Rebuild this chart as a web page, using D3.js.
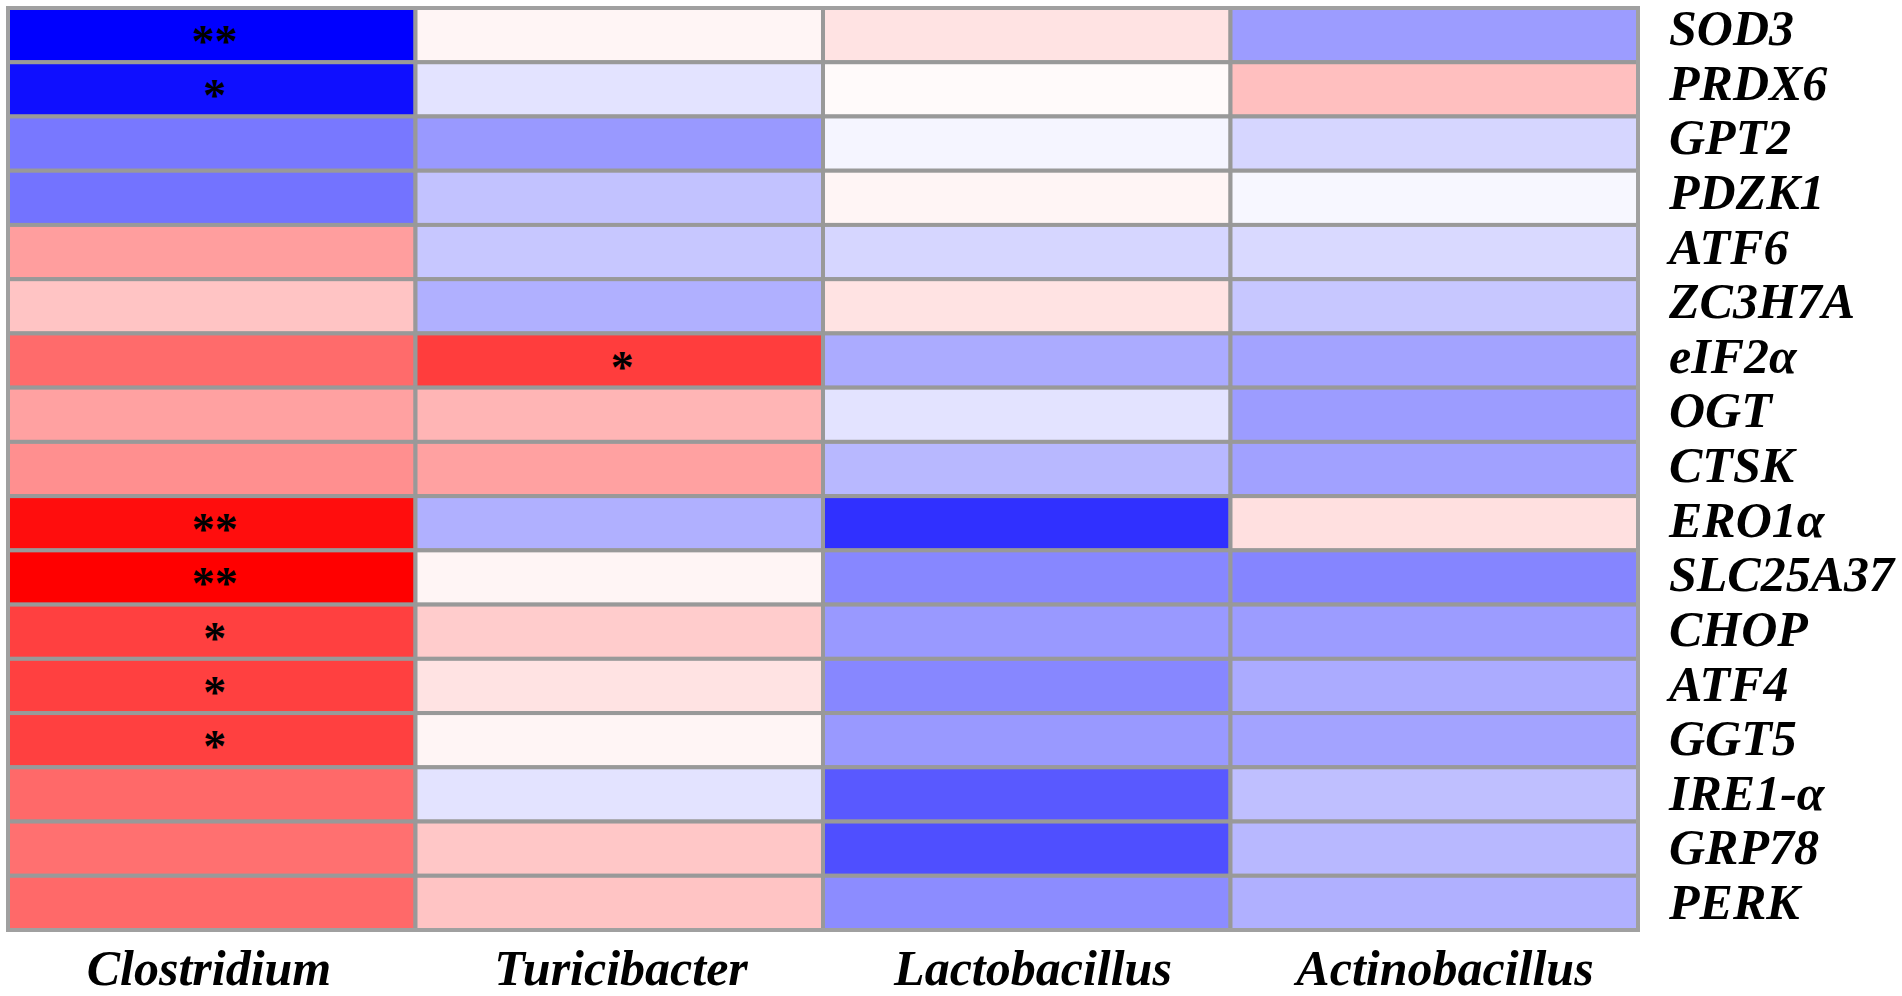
<!DOCTYPE html>
<html>
<head>
<meta charset="utf-8">
<script src="https://cdn.jsdelivr.net/npm/d3@7"></script>
<style>
  html, body { margin: 0; padding: 0; background: #ffffff; }
  svg { display: block; }
</style>
</head>
<body>
<div id="heatmap"></div>
<script>
//-------------------------------------------------------
// data
//-------------------------------------------------------
const genes = ["SOD3", "PRDX6", "GPT2", "PDZK1", "ATF6", "ZC3H7A", "eIF2α", "OGT", "CTSK",
    "ERO1α", "SLC25A37", "CHOP", "ATF4", "GGT5", "IRE1-α", "GRP78", "PERK"];

const genera = ["Clostridium", "Turicibacter", "Lactobacillus", "Actinobacillus"];

// correlation per gene (same order as genes)
const clostridium   = [-1.00, -0.94, -0.53, -0.55, 0.38, 0.23, 0.58, 0.37, 0.44, 0.95, 1.00, 0.75, 0.75, 0.75, 0.59, 0.56, 0.59];
const turicibacter  = [0.04, -0.11, -0.40, -0.24, -0.22, -0.31, 0.76, 0.29, 0.37, -0.31, 0.04, 0.20, 0.11, 0.04, -0.11, 0.22, 0.23];
const lactobacillus = [0.11, 0.02, -0.04, 0.04, -0.16, 0.11, -0.33, -0.11, -0.28, -0.81, -0.47, -0.40, -0.47, -0.40, -0.65, -0.69, -0.45];
const actinobacillus = [-0.39, 0.25, -0.16, -0.03, -0.15, -0.22, -0.36, -0.39, -0.37, 0.12, -0.48, -0.39, -0.33, -0.36, -0.25, -0.28, -0.31];

// significance marks
const clostridiumSig   = ["**", "*", "", "", "", "", "", "", "", "**", "**", "*", "*", "*", "", "", ""];
const turicibacterSig  = ["", "", "", "", "", "", "*", "", "", "", "", "", "", "", "", "", ""];
const lactobacillusSig = genes.map(() => "");
const actinobacillusSig = genes.map(() => "");

const seriesValues = [clostridium, turicibacter, lactobacillus, actinobacillus];
const seriesSig = [clostridiumSig, turicibacterSig, lactobacillusSig, actinobacillusSig];

//-------------------------------------------------------
// properties
//-------------------------------------------------------
let properties = {
    width: 1902,
    height: 996,
    grid: { left: 8, right: 1638, top: 8, bottom: 930 },
    rowLabel: { x: 1669, first: 45, last: 919, size: 50 },
    colLabel: { y: 985, first: 209, last: 1445, size: 50 },
    star: { size: 46, dy: 22, dx: 3 },
    color: {
        low: "#0000ff",
        mid: "#ffffff",
        high: "#ff0000",
        border: "#999999",
        text: "#000000"
    },
    font: "'Liberation Serif', 'Times New Roman', serif"
};

// build cells table
const cells = [];
genera.forEach((g, j) => {
    genes.forEach((gene, i) => {
        cells.push({ genus: g, gene: gene, value: seriesValues[j][i], sig: seriesSig[j][i] });
    });
});

//-------------------------------------------------------
// scales
//-------------------------------------------------------
const x = d3.scaleBand()
    .domain(genera)
    .range([properties.grid.left, properties.grid.right]);

const y = d3.scaleBand()
    .domain(genes)
    .range([properties.grid.top, properties.grid.bottom]);

// labels sit on their own slightly different spacing
const yLabel = d3.scalePoint()
    .domain(genes)
    .range([properties.rowLabel.first, properties.rowLabel.last]);

const xLabel = d3.scalePoint()
    .domain(genera)
    .range([properties.colLabel.first, properties.colLabel.last]);

const color = d3.scaleLinear()
    .domain([-1, 0, 1])
    .range([properties.color.low, properties.color.mid, properties.color.high]);

//-------------------------------------------------------
// svg
//-------------------------------------------------------
const svg = d3.select("#heatmap")
    .append("svg")
    .attr("width", properties.width)
    .attr("height", properties.height);

// cells
svg.append("g")
    .attr("id", "cells")
    .selectAll("rect")
    .data(cells)
    .enter()
    .append("rect")
    .attr("x", d => x(d.genus))
    .attr("y", d => y(d.gene))
    .attr("width", x.bandwidth())
    .attr("height", y.bandwidth())
    .attr("fill", d => color(d.value))
    .attr("stroke", properties.color.border)
    .attr("stroke-width", 4);

// outer frame
svg.append("rect")
    .attr("x", properties.grid.left)
    .attr("y", properties.grid.top)
    .attr("width", properties.grid.right - properties.grid.left)
    .attr("height", properties.grid.bottom - properties.grid.top)
    .attr("fill", "none")
    .attr("stroke", "#a0a0a0")
    .attr("stroke-width", 4);

// significance stars
svg.append("g")
    .attr("id", "stars")
    .selectAll("text")
    .data(cells.filter(d => d.sig !== ""))
    .enter()
    .append("text")
    .attr("x", d => x(d.genus) + x.bandwidth() / 2 + properties.star.dx)
    .attr("y", d => y(d.gene) + y.bandwidth() / 2 + properties.star.dy)
    .attr("text-anchor", "middle")
    .attr("font-family", properties.font)
    .attr("font-weight", "bold")
    .attr("font-size", properties.star.size)
    .attr("fill", properties.color.text)
    .text(d => d.sig);

// gene labels
svg.append("g")
    .attr("id", "row-labels")
    .selectAll("text")
    .data(genes)
    .enter()
    .append("text")
    .attr("x", properties.rowLabel.x)
    .attr("y", d => yLabel(d))
    .attr("font-family", properties.font)
    .attr("font-weight", "bold")
    .attr("font-style", "italic")
    .attr("font-size", properties.rowLabel.size)
    .attr("fill", properties.color.text)
    .text(d => d);

// genus labels
svg.append("g")
    .attr("id", "col-labels")
    .selectAll("text")
    .data(genera)
    .enter()
    .append("text")
    .attr("x", d => xLabel(d))
    .attr("y", properties.colLabel.y)
    .attr("text-anchor", "middle")
    .attr("font-family", properties.font)
    .attr("font-weight", "bold")
    .attr("font-style", "italic")
    .attr("font-size", properties.colLabel.size)
    .attr("fill", properties.color.text)
    .text(d => d);
</script>
</body>
</html>
